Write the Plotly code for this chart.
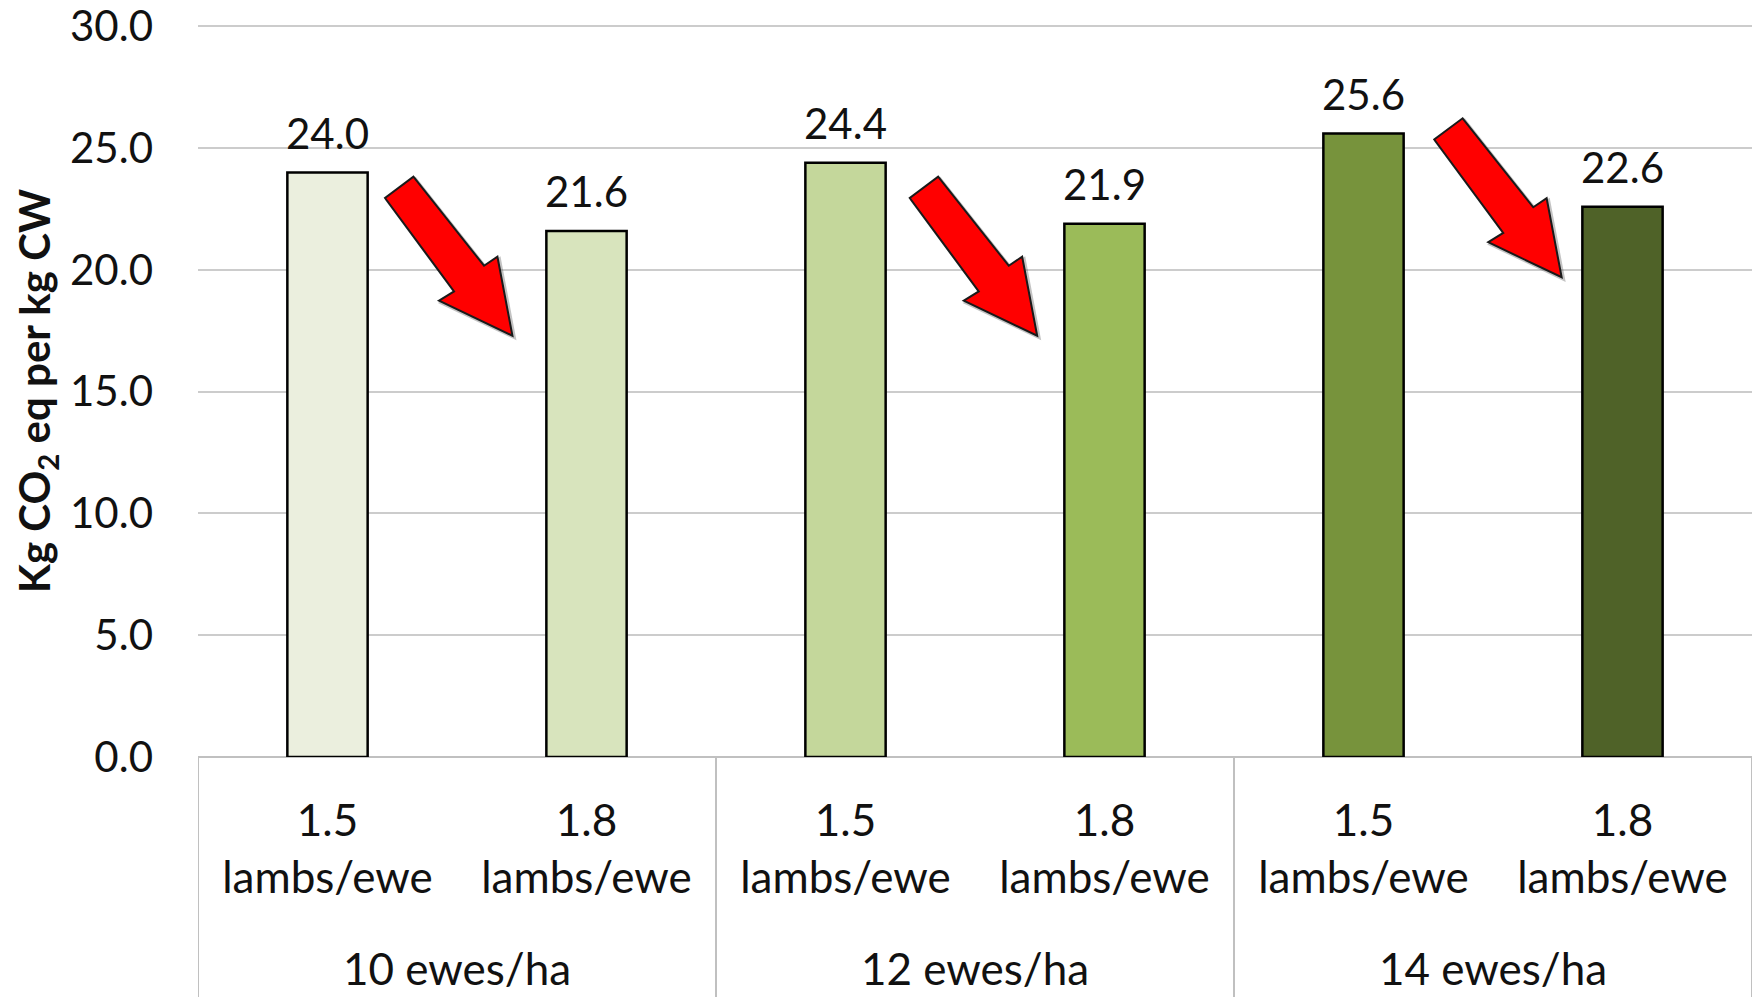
import plotly.graph_objects as go

# ---- data ----
group_labels = ["10 ewes/ha", "12 ewes/ha", "14 ewes/ha"]
lambing_labels = ["1.5<br>lambs/ewe", "1.8<br>lambs/ewe"]
emissions = [24.0, 21.6, 24.4, 21.9, 25.6, 22.6]
y_ticks = [0, 5, 10, 15, 20, 25, 30]
bar_colors = ["#EBEFDE", "#D8E4BD", "#C4D79B", "#9BBB59", "#77933C", "#4F6228"]
# red "decrease" arrows: tip position in axis units
arrow_tip_x = [0.714, 2.74, 4.765]
arrow_tip_y = [17.3, 17.3, 19.7]

FONT = "Lato"
TXT = "#111111"
n_sub = len(lambing_labels)
x_pos = list(range(len(emissions)))
tick_text = [lambing_labels[i % n_sub] for i in x_pos]

fig = go.Figure()
fig.add_trace(go.Bar(
    x=x_pos, y=emissions, width=0.31,
    marker=dict(color=bar_colors, line=dict(color="#000000", width=2.5)),
    hoverinfo="skip", showlegend=False,
))

annotations = []
# value labels
for xi, v in zip(x_pos, emissions):
    annotations.append(dict(x=xi, y=v, xref="x", yref="y", text=f"{v:.1f}",
                            showarrow=False, yanchor="bottom", yshift=13,
                            font=dict(family=FONT, size=42, color=TXT)))
# group labels
for g, lab in enumerate(group_labels):
    center = g * n_sub + (n_sub - 1) / 2
    annotations.append(dict(x=center, y=-0.288, xref="x", yref="paper", text=lab,
                            showarrow=False, yanchor="middle",
                            font=dict(family=FONT, size=44, color=TXT)))
# y axis title
annotations.append(dict(x=-0.104, y=0.5, xref="paper", yref="paper",
                        text="Kg CO<sub>2</sub> eq per kg CW", textangle=-90,
                        showarrow=False, xanchor="center", yanchor="middle",
                        font=dict(family=FONT, size=42, color=TXT, weight="bold")))

shapes = []
# category box dividers
bounds = [g * n_sub - 0.5 for g in range(len(group_labels) + 1)]
for b in bounds:
    shapes.append(dict(type="line", xref="x", yref="paper", x0=b, x1=b, y0=0, y1=-0.4,
                       line=dict(color="#C0C0C0", width=2), layer="above"))
# arrows (pixel-sized path anchored at the tip), with a soft shadow
arrow_path = "M0,0 L-15,79 L-28.4,70 L-99,159 L-127.4,137.7 L-58.4,44.3 L-73.4,35 Z"
shadow_path = "M2,-2 L-13,77 L-26.4,68 L-97,157 L-125.4,135.7 L-56.4,42.3 L-71.4,33 Z"
for ax_, ay_ in zip(arrow_tip_x, arrow_tip_y):
    shapes.append(dict(type="path", xref="x", yref="y", xsizemode="pixel", ysizemode="pixel",
                       xanchor=ax_, yanchor=ay_, path=shadow_path, opacity=0.35,
                       fillcolor="#555555", line=dict(color="#555555", width=3), layer="above"))
    shapes.append(dict(type="path", xref="x", yref="y", xsizemode="pixel", ysizemode="pixel",
                       xanchor=ax_, yanchor=ay_, path=arrow_path,
                       fillcolor="#FF0000", line=dict(color="#1a1a1a", width=2), layer="above"))

fig.update_layout(
    width=1758, height=997,
    margin=dict(l=198, r=6, t=24, b=240),
    plot_bgcolor="#FFFFFF", paper_bgcolor="#FFFFFF",
    annotations=annotations, shapes=shapes,
    xaxis=dict(range=[-0.5, len(emissions) - 0.5], tickvals=x_pos, ticktext=tick_text,
               showgrid=False, zeroline=False, showline=False, ticks="",
               ticklabelstandoff=34, automargin=False,
               tickfont=dict(family=FONT, size=44, color=TXT)),
    yaxis=dict(range=[0, 30.1], tickvals=y_ticks, tickformat=".1f",
               showgrid=True, gridcolor="#CCCCCC", gridwidth=2, zeroline=True,
               zerolinecolor="#C0C0C0", zerolinewidth=2, showline=False, ticks="",
               ticklabelstandoff=44, automargin=False,
               tickfont=dict(family=FONT, size=42, color=TXT)),
)

fig.write_html("out.html", config={"displayModeBar": False},
               post_script="document.body.style.margin='0';")
